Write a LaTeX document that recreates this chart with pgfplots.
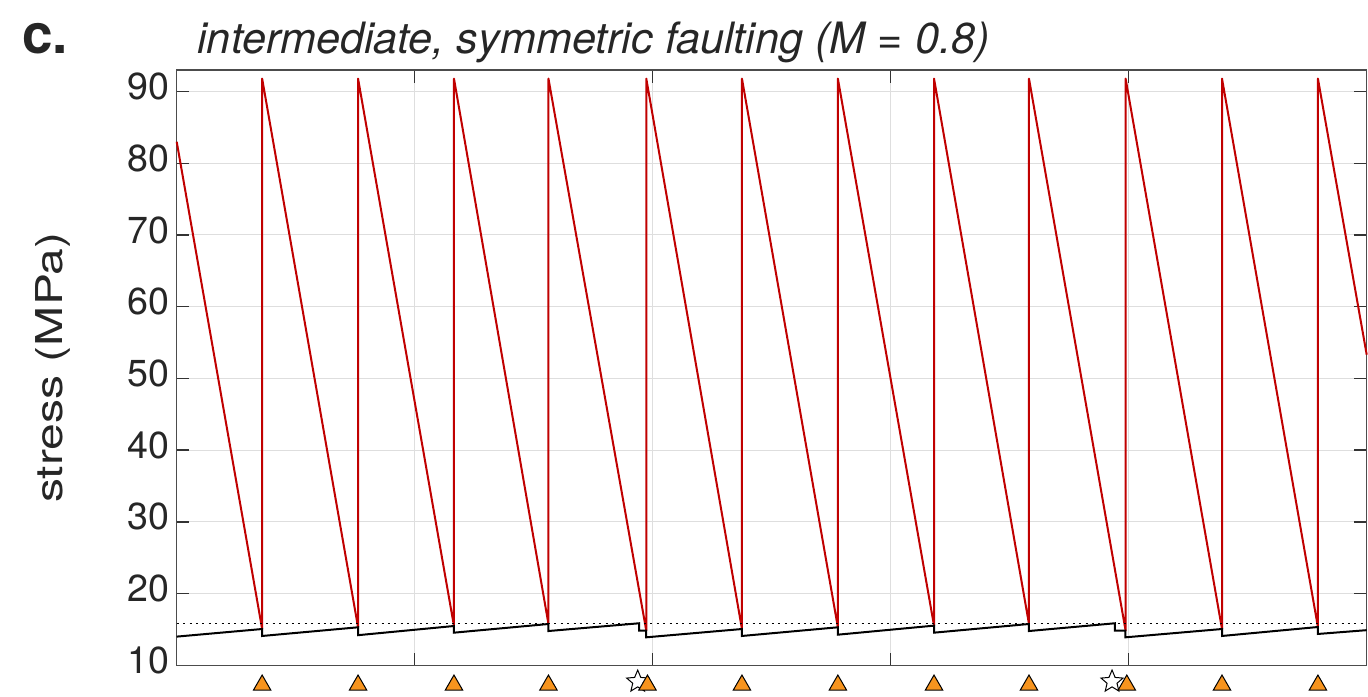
\documentclass[border=0pt]{standalone}
\usepackage{fontspec}
\setmainfont{TeX Gyre Heros}
\usepackage{graphicx}
\usepackage{pgfplots}
\pgfplotsset{compat=1.18}
\definecolor{eqred}{RGB}{192,0,0}
\definecolor{triorange}{RGB}{247,148,30}
\pgfdeclareplotmark{fivestar}{%
  \pgfpathmoveto{\pgfpointpolar{90}{\pgfplotmarksize}}%
  \pgfpathlineto{\pgfpointpolar{126}{0.45\pgfplotmarksize}}%
  \pgfpathlineto{\pgfpointpolar{162}{\pgfplotmarksize}}%
  \pgfpathlineto{\pgfpointpolar{198}{0.45\pgfplotmarksize}}%
  \pgfpathlineto{\pgfpointpolar{234}{\pgfplotmarksize}}%
  \pgfpathlineto{\pgfpointpolar{270}{0.45\pgfplotmarksize}}%
  \pgfpathlineto{\pgfpointpolar{306}{\pgfplotmarksize}}%
  \pgfpathlineto{\pgfpointpolar{342}{0.45\pgfplotmarksize}}%
  \pgfpathlineto{\pgfpointpolar{18}{\pgfplotmarksize}}%
  \pgfpathlineto{\pgfpointpolar{54}{0.45\pgfplotmarksize}}%
  \pgfpathclose
  \pgfusepathqfillstroke}
\begin{document}
\begin{tikzpicture}
\useasboundingbox (-88.35pt,-15.35pt) rectangle (595.65pt,332.65pt);
\begin{axis}[
  at={(0pt,0pt)}, anchor=south west,
  width=595pt, height=297.65pt, scale only axis,
  xmin=0, xmax=5, ymin=10, ymax=93,
  xtick={0,1,2,3,4,5}, xticklabels={},
  ytick={10,20,30,40,50,60,70,80,90},
  tick align=inside,
  major tick length=6.3pt,
  grid=major,
  major grid style={line width=0.5pt, color=black!13},
  axis line style={line width=0.65pt, black!70},
  every tick/.style={line width=0.65pt, black!80},
  tick label style={font=\fontsize{18.8}{22}\selectfont, text=black!85},
  yticklabel style={yshift=2.5pt},
  /pgf/number format/assume math mode=true,
  clip=false,
]
\addplot[eqred, line width=1pt, line join=round] coordinates {
(0,83.0)
(0.359,15.06) (0.359,91.8)
(0.762,15.30) (0.762,91.8)
(1.165,15.48) (1.165,91.8)
(1.562,15.76) (1.562,91.8)
(1.973,14.83) (1.973,91.8)
(2.375,15.06) (2.375,91.8)
(2.778,15.30) (2.778,91.8)
(3.182,15.53) (3.182,91.8)
(3.581,15.76) (3.581,91.8)
(3.987,14.83) (3.987,91.8)
(4.392,15.06) (4.392,91.8)
(4.795,15.34) (4.795,91.8)
(5,53.3)
};
\addplot[black, line width=1pt, line join=miter] coordinates {
(0,14.00)
(0.359,15.06) (0.359,14.09)
(0.762,15.30) (0.762,14.20)
(1.165,15.48) (1.165,14.55)
(1.562,15.76) (1.562,14.78)
(1.943,15.86) (1.943,14.83) (1.972,14.83) (1.972,13.90)
(2.375,15.06) (2.375,14.09)
(2.778,15.30) (2.778,14.27)
(3.182,15.53) (3.182,14.55)
(3.581,15.76) (3.581,14.78)
(3.942,15.86) (3.942,14.83) (3.986,14.83) (3.986,13.90)
(4.392,15.06) (4.392,14.09)
(4.795,15.34) (4.795,14.37)
(5,14.90)
};
\addplot[black, line width=0.5pt, dash pattern=on 1pt off 2.2pt] coordinates {(0,15.86) (5,15.86)};
\addplot[only marks, mark=fivestar, mark size=5.8pt, mark options={fill=white, draw=black, line width=0.5pt}] coordinates {(1.937,7.72) (3.930,7.72)};
\addplot[only marks, mark=triangle*, mark size=5pt, mark options={fill=triorange, draw=black, line width=0.5pt}] coordinates {
(0.359,7.25) (0.762,7.25) (1.165,7.25) (1.562,7.25) (1.978,7.25) (2.375,7.25)
(2.778,7.25) (3.182,7.25) (3.581,7.25) (3.992,7.25) (4.392,7.25) (4.795,7.25)};
\end{axis}
\node[anchor=base west, inner sep=0pt, font=\fontsize{21.6}{25}\selectfont\itshape, text=black!85] at (10.15pt,306pt) {intermediate, symmetric faulting (M = 0.8)};
\node[anchor=base west, inner sep=0pt, font=\fontsize{27.5}{32}\selectfont\bfseries, text=black!85] at (-77.35pt,306pt) {c.};
\node[rotate=90, anchor=base, inner sep=0pt, font=\fontsize{18.5}{22}\selectfont, text=black!85] at (-56.85pt,148.8pt) {\scalebox{1.3}[1]{stress (MPa)}};
\end{tikzpicture}
\end{document}
